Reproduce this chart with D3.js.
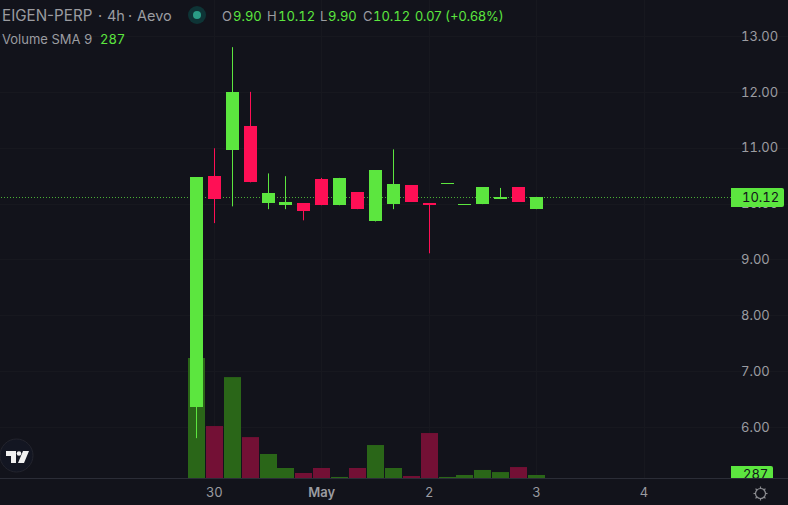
<!DOCTYPE html>
<html><head><meta charset="utf-8">
<script src="https://cdn.jsdelivr.net/npm/d3@7"></script>
<style>
html,body{margin:0;padding:0;background:#12131b;overflow:hidden}
svg{display:block}
text{font-family:Inter,"Noto Sans",sans-serif;font-variant-numeric:tabular-nums;font-feature-settings:"tnum" 1}
text.prop{font-variant-numeric:normal;font-feature-settings:"tnum" 0}
</style></head><body>
<svg id="c" width="788" height="505"></svg>
<script>
const times=["2024-04-29T20:00Z","2024-04-30T00:00Z","2024-04-30T04:00Z","2024-04-30T08:00Z","2024-04-30T12:00Z","2024-04-30T16:00Z","2024-04-30T20:00Z","2024-05-01T00:00Z","2024-05-01T04:00Z","2024-05-01T08:00Z","2024-05-01T12:00Z","2024-05-01T16:00Z","2024-05-01T20:00Z","2024-05-02T00:00Z","2024-05-02T04:00Z","2024-05-02T08:00Z","2024-05-02T12:00Z","2024-05-02T16:00Z","2024-05-02T20:00Z","2024-05-03T00:00Z"];
const opens =[6.35,10.49,10.96,11.39,10.01,9.97,10.01,10.44,9.97,10.20,9.68,9.99,10.33,10.01,10.36,10.00,9.99,10.08,10.29,9.90];
const highs =[10.47,10.99,12.80,12.00,10.54,10.49,10.01,10.46,10.46,10.20,10.60,10.97,10.33,10.01,10.36,10.00,10.29,10.28,10.29,10.12];
const lows  =[5.80,9.65,9.95,10.38,9.90,9.90,9.70,9.97,9.97,9.90,9.68,9.90,10.03,9.11,10.36,10.00,9.99,10.08,10.03,9.90];
const closes=[10.47,10.08,12.00,10.38,10.19,10.03,9.86,9.97,10.46,9.90,10.60,10.35,10.03,9.97,10.36,10.00,10.29,10.11,10.03,10.12];
const volumes=[11500,4980,9670,3920,2300,960,480,960,100,960,3160,960,190,4310,100,287,770,570,1050,287];
const priceTicks=[13,12,11,10,9,8,7,6];
const timeTicks=["2024-04-30T00:00Z","2024-05-01T00:00Z","2024-05-02T00:00Z","2024-05-03T00:00Z","2024-05-04T00:00Z"];
const timeLabels=["30","May","2","3","4"];
const lastPrice=10.12, lastVolume=287;
const headerMain=["EIGEN-PERP","·","4h","·","Aevo"];
const ohlcKeys=["O","H","L","C"], ohlcValues=["9.90","10.12","9.90","10.12"];
const changeText="0.07 (+0.68%)", volumeTitle="Volume SMA 9";

const BG="#12131b",GREEN="#5ce63f",RED="#ff0f55",VGREEN="#2a6618",VRED="#731035",GRID="#17181f",TXT="#9b9ca1",AXIS="#2b2d37";
const svg=d3.select("#c");
svg.append("rect").attr("width",788).attr("height",505).attr("fill",BG);

const parse=d3.isoParse;
const dates=times.map(parse);
const x=d3.scaleUtc().domain([parse(timeTicks[0]),parse(timeTicks[4])]).range([214.3,644]);
const y=d3.scaleLinear().domain([13,6]).range([36,427]);
const v=d3.scaleLinear().domain([0,11500]).range([478,358]);

// grid
const grid=svg.append("g").attr("stroke",GRID).attr("stroke-width",1);
grid.selectAll(".gy").data(priceTicks).join("line").attr("x1",0).attr("x2",788)
  .attr("y1",d=>Math.round(y(d))+.5).attr("y2",d=>Math.round(y(d))+.5);
grid.selectAll(".gx").data(timeTicks).join("line").attr("y1",0).attr("y2",478)
  .attr("x1",d=>Math.floor(x(parse(d)))+.5).attr("x2",d=>Math.floor(x(parse(d)))+.5);

// volume
const idx=d3.range(times.length);
const up=i=>closes[i]>=opens[i];
svg.append("g").selectAll("rect").data(idx).join("rect")
  .attr("x",i=>Math.round(x(dates[i])-8.5)).attr("width",17)
  .attr("y",i=>v(volumes[i])).attr("height",i=>v(0)-v(volumes[i]))
  .attr("fill",i=>up(i)?VGREEN:VRED);

// price line
svg.append("line").attr("x1",1).attr("x2",731).attr("y1",Math.round(y(lastPrice))+.5).attr("y2",Math.round(y(lastPrice))+.5)
  .attr("stroke",GREEN).attr("stroke-opacity",.75).attr("stroke-width",1).attr("stroke-dasharray","1 2");

// candles
const cg=svg.append("g");
cg.selectAll("line").data(idx).join("line")
  .attr("x1",i=>Math.floor(x(dates[i]))+.5).attr("x2",i=>Math.floor(x(dates[i]))+.5)
  .attr("y1",i=>y(highs[i])).attr("y2",i=>y(lows[i]))
  .attr("stroke",i=>up(i)?GREEN:RED).attr("stroke-width",1);
cg.selectAll("rect").data(idx).join("rect")
  .attr("x",i=>Math.floor(x(dates[i]))-6).attr("width",13)
  .attr("y",i=>Math.round(y(Math.max(opens[i],closes[i]))))
  .attr("height",i=>Math.max(1,Math.round(Math.abs(y(opens[i])-y(closes[i])))))
  .attr("fill",i=>up(i)?GREEN:RED);

// axes
const yAxis=d3.axisRight(y).tickValues(priceTicks).tickFormat(d3.format(".2f")).tickSize(0).tickPadding(0);
const ya=svg.append("g").attr("transform","translate(741,0)").call(yAxis);
ya.select(".domain").remove();
ya.selectAll("text").attr("fill",TXT).attr("font-size",13).attr("font-family","Inter,sans-serif");

const xAxis=d3.axisBottom(x).tickValues(timeTicks.map(parse)).tickFormat((d,i)=>timeLabels[i]).tickSize(0).tickPadding(0);
const xa=svg.append("g").attr("transform","translate(-0.5,488)").call(xAxis);
xa.select(".domain").remove();
xa.selectAll("text").attr("fill",TXT).attr("font-size",13).attr("font-family","Inter,sans-serif")
  .attr("font-weight",(d,i)=>timeLabels[i]==="May"?600:400);

svg.append("line").attr("x1",0).attr("x2",788).attr("y1",478.5).attr("y2",478.5).attr("stroke",AXIS);

// price tag
svg.append("path").attr("d","M731 188H782a2 2 0 0 1 2 2V205a2 2 0 0 1 -2 2H731Z").attr("fill",GREEN);
svg.append("text").attr("x",742).attr("y",y(lastPrice)+5.5).attr("font-size",13).attr("fill","#12131b").text(d3.format(".2f")(lastPrice));
// volume tag (clipped by pane)
svg.append("clipPath").attr("id","vc").append("rect").attr("x",731).attr("y",460).attr("width",50).attr("height",18);
const vt=svg.append("g").attr("clip-path","url(#vc)");
vt.append("path").attr("d","M731 466H771a2 2 0 0 1 2 2V478H731Z").attr("fill",GREEN);
vt.append("text").attr("x",743).attr("y",v(lastVolume)+4).attr("font-size",13).attr("fill","#12131b").text(lastVolume);

// header
const hdr=svg.append("g");
const hx=[2,98,107,128,137];
hdr.selectAll("text").data(headerMain).join("text").attr("class","prop").attr("x",(d,i)=>hx[i]).attr("y",20.5)
  .attr("font-size",(d,i)=>i===0?15.2:14.5).attr("fill",TXT).text(d=>d);
svg.append("circle").attr("cx",197).attr("cy",15).attr("r",9).attr("fill","#0e3436");
svg.append("circle").attr("cx",197).attr("cy",15).attr("r",4).attr("fill","#2a9d86");
const kx=[222,267,320,363],vx=[233,278,328,373];
const o=svg.append("g").attr("font-size",13);
ohlcKeys.forEach((k,i)=>{
  o.append("text").attr("x",kx[i]).attr("y",21).attr("fill",TXT).text(k);
  o.append("text").attr("x",vx[i]).attr("y",21).attr("fill",GREEN).text(ohlcValues[i]);
});
o.append("text").attr("class","prop").attr("x",415).attr("y",21).attr("fill",GREEN).text(changeText);
svg.append("text").attr("x",2).attr("y",44).attr("font-size",13).attr("fill",TXT).text(volumeTitle);
svg.append("text").attr("x",100).attr("y",44).attr("font-size",13).attr("fill",GREEN).text(lastVolume);

// logo
svg.append("circle").attr("cx",16.5).attr("cy",455.5).attr("r",16.5).attr("fill","#131622").attr("stroke","#23242d");
svg.append("path").attr("d","M6 451H16V463H11V456H6Z M23 451H29L24 463H18Z").attr("fill","#f0f0f0");
svg.append("circle").attr("cx",19).attr("cy",453.5).attr("r",2.3).attr("fill","#f0f0f0");

// gear
const gear=svg.append("g").attr("transform","translate(760.5,493.5)").attr("fill","none").attr("stroke","#8b8c91").attr("stroke-width",1.2);
gear.append("circle").attr("r",5);
gear.selectAll("line").data(d3.range(8)).join("line").attr("y1",-5).attr("y2",-7).attr("transform",d=>`rotate(${d*45})`);
</script>
</body></html>
